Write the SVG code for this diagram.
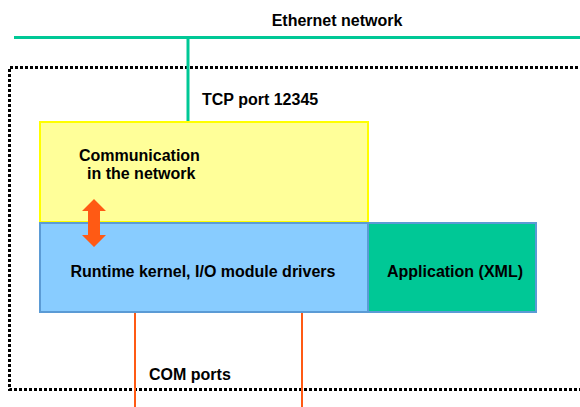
<svg xmlns="http://www.w3.org/2000/svg" width="580" height="407" viewBox="0 0 580 407">
<style>
text{font-family:"Liberation Sans",Arial,sans-serif;font-weight:bold;font-size:16px;fill:#000}
.teal{stroke:#00C896;stroke-width:3;fill:none}
.orange{stroke:#FF5A14;stroke-width:2;fill:none}
</style>
<rect width="580" height="407" fill="#fff"/>
<g id="frame">
<path d="M583,67.5 H9.5 V389.5 H583" fill="none" stroke="#000" stroke-width="3" stroke-dasharray="3 2"/>
</g>
<g id="ethernet">
<text x="337" y="26" text-anchor="middle">Ethernet network</text>
</g>
<g id="tcp">
<text x="202" y="105">TCP port 12345</text>
</g>
<g id="communication">
<rect x="40" y="122" width="328" height="100" fill="#FFFF99" stroke="#FFFF00" stroke-width="2"/>
<text x="79" y="161">Communication</text>
<text x="87" y="179">in the network</text>
</g>
<g id="runtime">
<rect x="40" y="223" width="328" height="89" fill="#88CCFF" stroke="#5B9BD5" stroke-width="2"/>
<text x="203" y="277" text-anchor="middle">Runtime kernel, I/O module drivers</text>
</g>
<g id="application">
<rect x="368" y="223" width="168" height="89" fill="#00C896" stroke="#5B9BD5" stroke-width="2"/>
<text x="455" y="277" text-anchor="middle">Application (XML)</text>
</g>
<g id="com">
<text x="149" y="380">COM ports</text>
</g>
<g id="connectors">
<line class="teal" x1="14" y1="37.5" x2="580" y2="37.5"/>
<line class="teal" x1="188" y1="37" x2="188" y2="121"/>
<line class="orange" x1="135" y1="313" x2="135" y2="407"/>
<line class="orange" x1="302" y1="313" x2="302" y2="407"/>
<path d="M94,199 L106,211 L100,211 L100,235 L106,235 L94,247 L82,235 L88,235 L88,211 L82,211 Z" fill="#FF5A14"/>
</g>
</svg>
